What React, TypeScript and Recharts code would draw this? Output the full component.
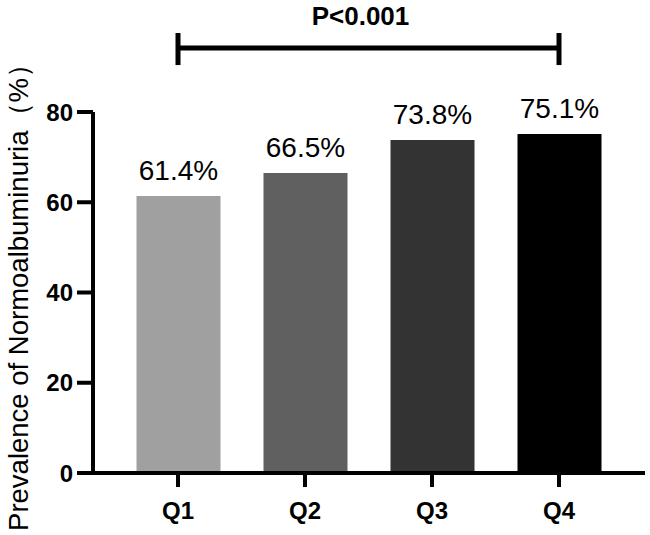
import React from 'react';
import { BarChart, Bar, XAxis, YAxis, Cell, LabelList, ReferenceLine, Label } from 'recharts';

const categories = ['Q1', 'Q2', 'Q3', 'Q4'];
const prevalence = [61.4, 66.5, 73.8, 75.1];
const barColors = ['#a0a0a0', '#606060', '#333333', '#000000'];
const yTicks = [0, 20, 40, 60, 80];
const yLabel = 'Prevalence of Normoalbuminuria（%）';
const pLabel = 'P<0.001';
const bracketY = 94.2;
const bracketTop = 97.5;
const bracketBottom = 90.4;

const data = categories.map((c, i) => ({ name: c, value: prevalence[i] }));

const FONT = '"Liberation Sans", Arial, Helvetica, sans-serif';

const renderYLabel = (props: any) => {
  const vb = props.viewBox || { x: 0, y: 0, width: 0, height: 0 };
  const x = vb.x + 28;
  const y = vb.y + vb.height / 2 - 2;
  return (
    <text
      x={x}
      y={y}
      transform={`rotate(-90, ${x}, ${y})`}
      textAnchor="middle"
      fontSize={27.5}
      fontFamily={FONT}
      fill="#000"
    >
      {yLabel}
    </text>
  );
};

export default function App() {
  return (
    <div style={{ position: 'absolute', left: 0, top: 0, background: '#fff' }}>
      <BarChart
        width={650}
        height={535}
        data={data}
        margin={{ top: 112, right: 5, bottom: 0, left: 0 }}
      >
        <XAxis
          dataKey="name"
          height={62}
          padding={{ left: 21.5, right: 22.5 }}
          axisLine={{ stroke: '#000', strokeWidth: 4 }}
          tickLine={{ stroke: '#000', strokeWidth: 4 }}
          tickSize={14}
          tickMargin={15}
          tick={{ fill: '#000', fontSize: 24, fontWeight: 'bold', fontFamily: FONT }}
        />
        <YAxis
          width={93}
          domain={[0, 80]}
          ticks={yTicks}
          allowDataOverflow
          axisLine={{ stroke: '#000', strokeWidth: 4 }}
          tickLine={{ stroke: '#000', strokeWidth: 4 }}
          tickSize={16}
          tickMargin={4}
          tick={{ fill: '#000', fontSize: 24, fontWeight: 'bold', fontFamily: FONT }}
        >
          <Label content={renderYLabel} />
        </YAxis>
        <Bar dataKey="value" barSize={84} isAnimationActive={false}>
          {data.map((d, i) => (
            <Cell key={d.name} fill={barColors[i]} />
          ))}
          <LabelList
            dataKey="value"
            position="top"
            offset={16}
            formatter={(v: any) => `${v}%`}
            style={{ fontSize: 28, fontFamily: FONT, fill: '#000' }}
          />
        </Bar>
        <ReferenceLine
          ifOverflow="visible"
          segment={[{ x: 'Q1', y: bracketY }, { x: 'Q4', y: bracketY }]}
          stroke="#000"
          strokeWidth={5}
        >
          <Label
            value={pLabel}
            position="top"
            offset={23}
            dx={-8}
            style={{ fontSize: 26, fontWeight: 'bold', fontFamily: FONT, fill: '#000' }}
          />
        </ReferenceLine>
        <ReferenceLine
          ifOverflow="visible"
          segment={[{ x: 'Q1', y: bracketBottom }, { x: 'Q1', y: bracketTop }]}
          stroke="#000"
          strokeWidth={5}
        />
        <ReferenceLine
          ifOverflow="visible"
          segment={[{ x: 'Q4', y: bracketBottom }, { x: 'Q4', y: bracketTop }]}
          stroke="#000"
          strokeWidth={5}
        />
      </BarChart>
    </div>
  );
}
